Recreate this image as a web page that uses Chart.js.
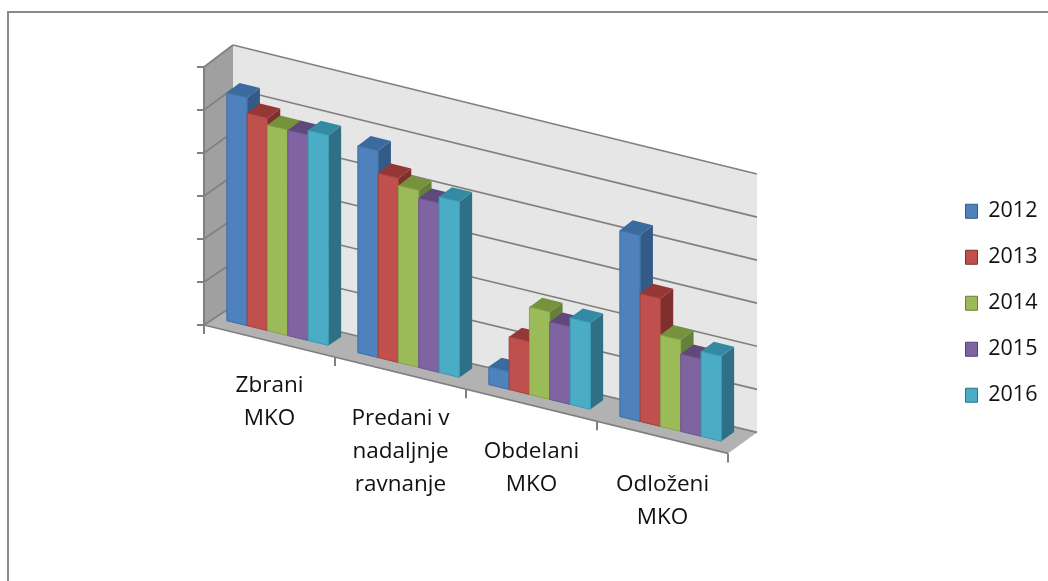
<!DOCTYPE html>
<html><head><meta charset="utf-8">
<style>
html,body{margin:0;padding:0;background:#fff;overflow:hidden}
#wrap{position:relative;width:1048px;height:581px}
#frame{position:absolute;left:7px;top:11px;right:-4px;bottom:-4px;border:2px solid #8a8a8a}
canvas{position:absolute;left:0;top:0;filter:blur(0.5px)}
</style>
<script src="https://cdn.jsdelivr.net/npm/chart.js@4"></script>
</head><body>
<div id="wrap"><div id="frame"></div><canvas id="c" width="1048" height="581"></canvas></div>
<script>
const categories = [["Zbrani","MKO"],["Predani v","nadaljnje","ravnanje"],["Obdelani","MKO"],["Odloženi","MKO"]];
const s2012 = [5.29, 4.81, 0.42, 4.35];
const s2013 = [4.93, 4.29, 1.23, 2.99];
const s2014 = [4.77, 4.12, 2.04, 2.14];
const s2015 = [4.77, 3.94, 1.81, 1.81];
const s2016 = [4.88, 4.09, 2.02, 1.99];
const seriesNames = ["2012","2013","2014","2015","2016"];
const seriesValues = [s2012,s2013,s2014,s2015,s2016];
const frontColors = ["#4f81bd","#c0504d","#9bbb59","#8064a2","#4bacc6"];
const edgeColors  = ["#3a6ea5","#a5403d","#86a34a","#6c5490","#3c9ab3"];
const topColors   = ["#3b6a9e","#953735","#76923c","#5f497a","#338ba3"];
const sideColors  = ["#345b88","#7f2f2d","#65803a","#54406e","#2f7086"];

const scene3d = {
  id:'scene3d',
  beforeLayout(chart){
    const l = chart.legend;
    if(l && !l.__wide){
      const fit = l.fit.bind(l);
      l.fit = ()=>{ l.maxHeight = 581; l.maxWidth = 320; fit(); l.width = 320; };
      l.__wide = true;
    }
  },
  afterLayout(chart){
    const l = chart.legend;
    l.left = 941; l.right = 1261; l.top = 176; l.bottom = 581;
  },
  beforeDatasetsDraw(chart){
    const ctx = chart.ctx, xs = chart.scales.x, ys = chart.scales.y;
    const y0 = ys.getPixelForValue(0), yTop = ys.getPixelForValue(6), L = xs.left, R = xs.right;
    const P = (x,y,d)=>{
      const f = (y0-y)/(y0-yTop), g = (x-L)/(R-L);
      return [x+29*d, y+(0.245+0.005*f)*(x-L)-(19+3*f+2*g)*d];
    };
    const poly = (pts,fill,stroke,lw)=>{
      ctx.beginPath();
      pts.forEach((p,i)=> i?ctx.lineTo(p[0],p[1]):ctx.moveTo(p[0],p[1]));
      ctx.closePath();
      if(fill){ctx.fillStyle=fill;ctx.fill();}
      if(stroke){ctx.strokeStyle=stroke;ctx.lineWidth=lw||1;ctx.stroke();}
    };
    const line = (a,b,c,lw)=>{ctx.beginPath();ctx.moveTo(a[0],a[1]);ctx.lineTo(b[0],b[1]);ctx.strokeStyle=c;ctx.lineWidth=lw;ctx.stroke();};
    ctx.save();
    // walls and floor
    poly([P(L,y0,0),P(L,yTop,0),P(L,yTop,1),P(L,y0,1)],'#a0a0a0');
    poly([P(L,yTop,1),P(R,yTop,1),P(R,y0,1),P(L,y0,1)],'#e6e6e6');
    poly([P(L,y0,0),P(L,y0,1),P(R,y0,1),P(R,y0,0)],'#b2b2b2');
    // gridlines and value ticks from the y scale
    const gc = '#808080';
    ys.ticks.forEach(t=>{
      const y = ys.getPixelForValue(t.value);
      line(P(L,y,0),P(L,y,1),gc,1.7);
      line(P(L,y,1),P(R,y,1),gc,1.7);
      line([L-7,y],[L,y],gc,2);
    });
    line(P(L,y0,0),P(L,yTop,0),gc,2);
    line(P(L,y0,0),P(R,y0,0),gc,1.8);
    // category ticks and labels from the x scale
    const step = (R-L)/categories.length;
    for(let i=0;i<=categories.length;i++){
      const x = L+i*step, p = P(x,y0,0);
      line([p[0],p[1]],[p[0],p[1]+9],gc,2);
    }
    ctx.fillStyle='#111';
    ctx.font='22.5px "Open Sans"';
    ctx.textAlign='center';ctx.textBaseline='middle';
    chart.data.labels.forEach((lines,i)=>{
      const x = xs.getPixelForValue(i);
      const yy = y0+0.253*(x-L)+44;
      lines.forEach((s,k)=>ctx.fillText(s,x,yy+k*33));
    });
    // bars, left to right, taken from the bar elements
    const d0=0.28,d1=0.72,lift=-2.6;
    categories.forEach((c,i)=>{
      chart.data.datasets.forEach((ds,k)=>{
        const b = chart.getDatasetMeta(k).data[i];
        const x0=b.x-b.width/2,x1=b.x+b.width/2,yt=b.y,yb=b.base;
        const Q=(x,y,d)=>{const p=P(x,y,d);return [p[0],p[1]+lift];};
        poly([Q(x1,yb,d0),Q(x1,yt,d0),Q(x1,yt,d1),Q(x1,yb,d1)],sideColors[k]);
        poly([Q(x0,yt,d0),Q(x1,yt,d0),Q(x1,yt,d1),Q(x0,yt,d1)],topColors[k]);
        poly([Q(x0,yb,d0),Q(x0,yt,d0),Q(x1,yt,d0),Q(x1,yb,d0)],frontColors[k],edgeColors[k],1);
      });
    });
    ctx.restore();
    return false;
  }
};

new Chart(document.getElementById('c'),{
  type:'bar',
  data:{
    labels:categories,
    datasets:seriesNames.map((n,i)=>({label:n,data:seriesValues[i],backgroundColor:frontColors[i],borderColor:sideColors[i],borderWidth:1}))
  },
  plugins:[scene3d],
  options:{
    responsive:false,animation:false,devicePixelRatio:1,
    layout:{padding:{left:204,right:0,top:67,bottom:256}},
    datasets:{bar:{categoryPercentage:0.775,barPercentage:1}},
    scales:{
      x:{display:false},
      y:{display:false,min:0,max:6,ticks:{stepSize:1}}
    },
    plugins:{
      tooltip:{enabled:false},
      legend:{
        position:'right',align:'start',
        labels:{boxWidth:12,boxHeight:14,padding:24.5,color:'#111',font:{family:'"Open Sans"',size:21.5}}
      }
    }
  }
});
</script>
</body></html>
